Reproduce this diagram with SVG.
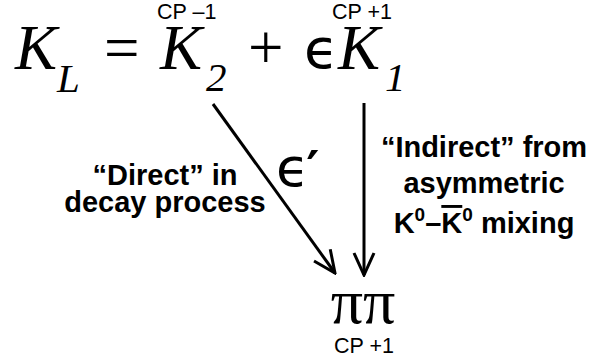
<svg xmlns="http://www.w3.org/2000/svg" width="594" height="362" viewBox="0 0 594 362">
<defs>
<style>
.eq{font-family:"Liberation Serif","Times New Roman",serif;font-style:italic;fill:#000}
.op{font-family:"Liberation Serif","Times New Roman",serif;fill:#000}
.cp{font-family:"Liberation Sans",Arial,sans-serif;font-size:21.5px;fill:#000}
.lbl{font-family:"Liberation Sans",Arial,sans-serif;font-size:29px;font-weight:bold;fill:#000;text-anchor:middle}
.eps{font-family:"DejaVu Sans",sans-serif;fill:#000}
.conn{stroke:#000;stroke-width:3;fill:none}
</style>
<marker id="arr" viewBox="-24 -12 26 24" markerWidth="26" markerHeight="24" refX="0" refY="0" orient="auto" markerUnits="userSpaceOnUse">
<path d="M-22,-10 L0,0 L-22,10" fill="none" stroke="#000" stroke-width="3"/>
</marker>
</defs>
<g id="equation">
<text class="eq" x="15" y="69" font-size="63">K</text>
<text class="eq" x="57" y="92" font-size="41">L</text>
<text class="op" x="104" y="69" font-size="63">=</text>
<text class="eq" x="160" y="69" font-size="63">K</text>
<text class="eq" x="206" y="91" font-size="41">2</text>
<text class="op" x="248" y="69" font-size="63">+</text>
<text class="eps" x="304" y="68" font-size="56">ϵ</text>
<text class="eq" x="338" y="69" font-size="63">K</text>
<text class="eq" x="385" y="91" font-size="41">1</text>
<text class="cp" x="157" y="19">CP –1</text>
<text class="cp" x="332" y="19">CP +1</text>
</g>
<g id="pipi">
<text class="op" x="363" y="323" font-size="64" text-anchor="middle">ππ</text>
<text class="cp" x="364" y="353" text-anchor="middle" font-size="23">CP +1</text>
</g>
<g id="connectors">
<line class="conn" x1="213" y1="104" x2="335" y2="273" marker-end="url(#arr)"/>
<line class="conn" x1="364" y1="103" x2="364" y2="275" marker-end="url(#arr)"/>
</g>
<g id="label-direct">
<text class="lbl" x="165" y="185">“Direct” in</text>
<text class="lbl" x="165" y="212">decay process</text>
</g>
<g id="label-epsprime">
<text class="eps" x="276" y="186" font-size="54">ϵ<tspan font-size="50" font-weight="bold" dx="-3">′</tspan></text>
</g>
<g id="label-indirect">
<text class="lbl" x="484" y="157">“Indirect” from</text>
<text class="lbl" x="484" y="193">asymmetric</text>
<text class="lbl" x="484" y="233">K<tspan font-size="19" dy="-12">0</tspan><tspan dy="12">–</tspan><tspan text-decoration="overline">K</tspan><tspan font-size="19" dy="-12">0</tspan><tspan dy="12"> mixing</tspan></text>
</g>
</svg>
